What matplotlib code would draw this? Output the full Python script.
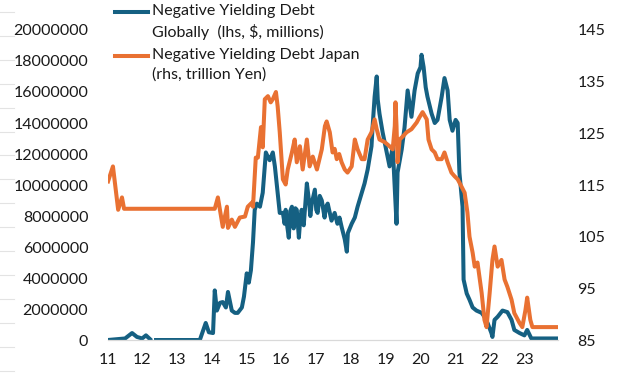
import numpy as np
import matplotlib
matplotlib.use("Agg")
import matplotlib.pyplot as plt
from matplotlib.lines import Line2D

# --------------------------------------------------
# Data (year fraction, value)
# --------------------------------------------------

# Negative yielding debt globally, $ millions (lhs), values here in millions of that unit
global_years = [
    2011.00, 2011.50, 2011.70, 2011.84, 2011.99, 2012.10, 2012.22, 2012.30,
    2012.39, 2013.65, 2013.82, 2013.91, 2014.03, 2014.08, 2014.14, 2014.23,
    2014.31, 2014.40, 2014.46, 2014.57, 2014.66, 2014.74, 2014.86, 2014.92,
    2015.00, 2015.06, 2015.12, 2015.18, 2015.23, 2015.29, 2015.38, 2015.46,
    2015.55, 2015.61, 2015.66, 2015.75, 2015.81, 2015.87, 2015.95, 2016.04,
    2016.09, 2016.12, 2016.15, 2016.21, 2016.25, 2016.30, 2016.35, 2016.40,
    2016.44, 2016.50, 2016.54, 2016.58, 2016.64, 2016.73, 2016.79, 2016.83,
    2016.87, 2016.96, 2017.00, 2017.04, 2017.10, 2017.16, 2017.24, 2017.28,
    2017.33, 2017.44, 2017.53, 2017.61, 2017.67, 2017.73, 2017.82, 2017.88,
    2017.91, 2018.02, 2018.11, 2018.19, 2018.31, 2018.39, 2018.48, 2018.59,
    2018.62, 2018.68, 2018.74, 2018.77, 2018.82, 2018.91, 2019.03, 2019.11,
    2019.20, 2019.31, 2019.34, 2019.46, 2019.54, 2019.63, 2019.74, 2019.83,
    2019.92, 2020.00, 2020.03, 2020.09, 2020.15, 2020.20, 2020.32, 2020.41,
    2020.49, 2020.61, 2020.69, 2020.78, 2020.84, 2020.92, 2021.01, 2021.07,
    2021.12, 2021.21, 2021.24, 2021.33, 2021.41, 2021.50, 2021.61, 2021.76,
    2021.84, 2021.93, 2022.04, 2022.07, 2022.13, 2022.22, 2022.36, 2022.50,
    2022.62, 2022.70, 2022.85, 2022.99, 2023.07, 2023.19, 2023.94,
]
global_debt_m = [
    0.0, 0.1, 0.45, 0.2, 0.1, 0.3, 0.05, np.nan,
    0.0, 0.0, 1.1, 0.5, 0.45, 3.2, 1.9, 2.4,
    2.45, 2.1, 3.1, 1.9, 1.75, 1.75, 2.1, 2.8,
    4.3, 3.7, 4.5, 6.3, 8.4, 8.8, 8.6, 9.5,
    12.1, 11.8, 11.6, 12.1, 11.2, 9.9, 8.2, 8.2,
    7.5, 8.4, 7.6, 6.6, 8.3, 8.6, 7.2, 8.5,
    8.4, 6.6, 7.8, 8.4, 7.4, 10.1, 9.0, 8.0,
    8.8, 9.7, 8.4, 8.2, 9.3, 9.0, 7.9, 8.6,
    8.8, 7.7, 8.2, 7.5, 7.9, 7.3, 6.5, 5.7,
    6.9, 7.5, 7.9, 8.6, 9.5, 10.1, 11.0, 12.5,
    13.7, 15.7, 17.0, 15.5, 14.6, 13.4, 12.1, 11.2,
    12.5, 7.5, 10.8, 12.3, 13.7, 16.1, 14.4, 16.1,
    17.2, 17.6, 18.4, 17.6, 16.3, 15.7, 14.6, 14.0,
    14.2, 15.7, 16.9, 16.1, 14.2, 13.5, 14.2, 14.0,
    10.8, 8.6, 3.9, 3.0, 2.6, 2.1, 1.9, 1.75,
    1.5, 1.1, 0.45, 0.2, 1.3, 1.5, 1.9, 1.8,
    1.3, 0.65, 0.45, 0.3, 0.65, 0.1, 0.1,
]

# Negative yielding debt Japan, trillion Yen (rhs)
japan_years = [
    2011.01, 2011.15, 2011.30, 2011.41, 2011.47, 2014.08, 2014.17, 2014.31,
    2014.43, 2014.46, 2014.57, 2014.66, 2014.80, 2014.95, 2015.03, 2015.15,
    2015.18, 2015.26, 2015.32, 2015.41, 2015.46, 2015.52, 2015.61, 2015.69,
    2015.75, 2015.84, 2015.89, 2015.95, 2016.04, 2016.12, 2016.18, 2016.30,
    2016.38, 2016.44, 2016.53, 2016.61, 2016.73, 2016.81, 2016.90, 2017.02,
    2017.16, 2017.25, 2017.30, 2017.39, 2017.47, 2017.53, 2017.59, 2017.66,
    2017.73, 2017.82, 2017.90, 2018.02, 2018.11, 2018.19, 2018.31, 2018.39,
    2018.48, 2018.59, 2018.68, 2018.74, 2018.82, 2018.97, 2019.11, 2019.20,
    2019.26, 2019.28, 2019.31, 2019.34, 2019.40, 2019.49, 2019.60, 2019.74,
    2019.89, 2019.97, 2020.06, 2020.18, 2020.23, 2020.32, 2020.41, 2020.49,
    2020.61, 2020.69, 2020.78, 2020.89, 2020.98, 2021.07, 2021.18, 2021.27,
    2021.35, 2021.41, 2021.50, 2021.56, 2021.64, 2021.76, 2021.84, 2021.90,
    2021.99, 2022.07, 2022.13, 2022.22, 2022.33, 2022.42, 2022.50, 2022.62,
    2022.70, 2022.85, 2022.93, 2023.02, 2023.07, 2023.16, 2023.22, 2023.94,
]
japan_debt_tn = [
    115.7, 118.6, 110.2, 112.6, 110.4, 110.4, 112.6, 106.9,
    110.8, 106.7, 108.3, 106.9, 108.7, 108.9, 110.8, 111.6,
    110.8, 120.3, 120.3, 126.2, 122.3, 131.6, 132.2, 131.0,
    131.6, 133.0, 130.2, 125.2, 116.1, 115.1, 118.0, 121.3,
    123.8, 119.4, 122.5, 118.0, 123.8, 118.6, 120.5, 118.0,
    121.9, 126.4, 127.3, 125.2, 121.3, 122.0, 120.0, 121.0,
    119.4, 118.0, 117.4, 118.6, 123.8, 121.9, 120.0, 120.0,
    123.8, 125.2, 127.7, 125.8, 123.8, 123.3, 122.5, 121.9,
    126.4, 131.0, 126.4, 119.4, 123.8, 124.4, 125.2, 125.8,
    127.1, 128.1, 129.1, 127.7, 123.8, 121.9, 121.3, 120.0,
    120.0, 121.3, 119.4, 117.4, 116.7, 116.1, 114.7, 113.5,
    109.7, 105.0, 101.9, 99.2, 100.0, 94.1, 88.9, 87.5,
    94.1, 100.5, 103.1, 99.2, 100.5, 96.7, 95.3, 92.8,
    90.2, 88.3, 87.5, 90.8, 93.2, 88.9, 87.5, 87.5,
]

left_ticks = [0, 2000000, 4000000, 6000000, 8000000, 10000000,
              12000000, 14000000, 16000000, 18000000, 20000000]
right_ticks = [85, 95, 105, 115, 125, 135, 145]
year_ticks = list(range(2011, 2024))
year_labels = [str(y % 100) for y in year_ticks]

blue = "#156082"
orange = "#E97132"
text_color = "#1a1a1a"

plt.rcParams["font.family"] = ["Lato", "DejaVu Sans"]

# --------------------------------------------------
# Plot
# --------------------------------------------------

fig = plt.figure(figsize=(6.17, 3.87), dpi=100)
ax = fig.add_axes([0.1746, 0.1214, 0.7294, 0.8011])
ax2 = ax.twinx()

global_vals = np.array(global_debt_m) * 1e6
ax.plot(global_years, global_vals, color=blue, lw=2.9, solid_joinstyle="round")
ax2.plot(japan_years, japan_debt_tn, color=orange, lw=2.9, solid_joinstyle="round")

ax.set_xlim(2011, 2023.95)
ax.set_ylim(0, 20000000)
ax2.set_ylim(85, 145)

ax.set_xticks(year_ticks)
ax.set_xticklabels(year_labels)
ax.set_yticks(left_ticks)
ax.set_yticklabels([str(v) for v in left_ticks])
ax2.set_yticks(right_ticks)
ax2.set_yticklabels([str(v) for v in right_ticks])

for a in (ax, ax2):
    for side in ("top", "left", "right", "bottom"):
        a.spines[side].set_visible(False)
ax.spines["bottom"].set_visible(True)
ax.spines["bottom"].set_color("#d9d9d9")
ax.spines["bottom"].set_linewidth(0.9)

ax.tick_params(axis="both", length=0, labelsize=11.5, colors=text_color)
ax.tick_params(axis="y", pad=14)
ax.tick_params(axis="x", pad=9)
ax2.tick_params(axis="y", length=0, labelsize=11.5, colors=text_color, pad=14)

# legend drawn by hand, key aligned with first text line
legend_items = [
    (blue, "Negative Yielding Debt\nGlobally  (lhs, $, millions)", 1 - 12 / 387),
    (orange, "Negative Yielding Debt Japan\n(rhs, trillion Yen)", 1 - 56 / 387),
]
for color, label, yy in legend_items:
    fig.add_artist(Line2D([115 / 617, 148 / 617], [yy, yy], color=color, lw=2.9,
                          transform=fig.transFigure))
    fig.text(152 / 617, yy + 8 / 387, label, ha="left", va="top",
             fontsize=11.5, color=text_color, linespacing=1.45)

# faint cut-off gridline stubs on the far left edge
for k in range(16):
    yy = 1 - (12 + 23.9 * k) / 387
    fig.add_artist(Line2D([0, 14 / 617], [yy, yy], color="#e3e3e3", lw=0.8,
                          transform=fig.transFigure))

fig.savefig("out.png", dpi=100)
